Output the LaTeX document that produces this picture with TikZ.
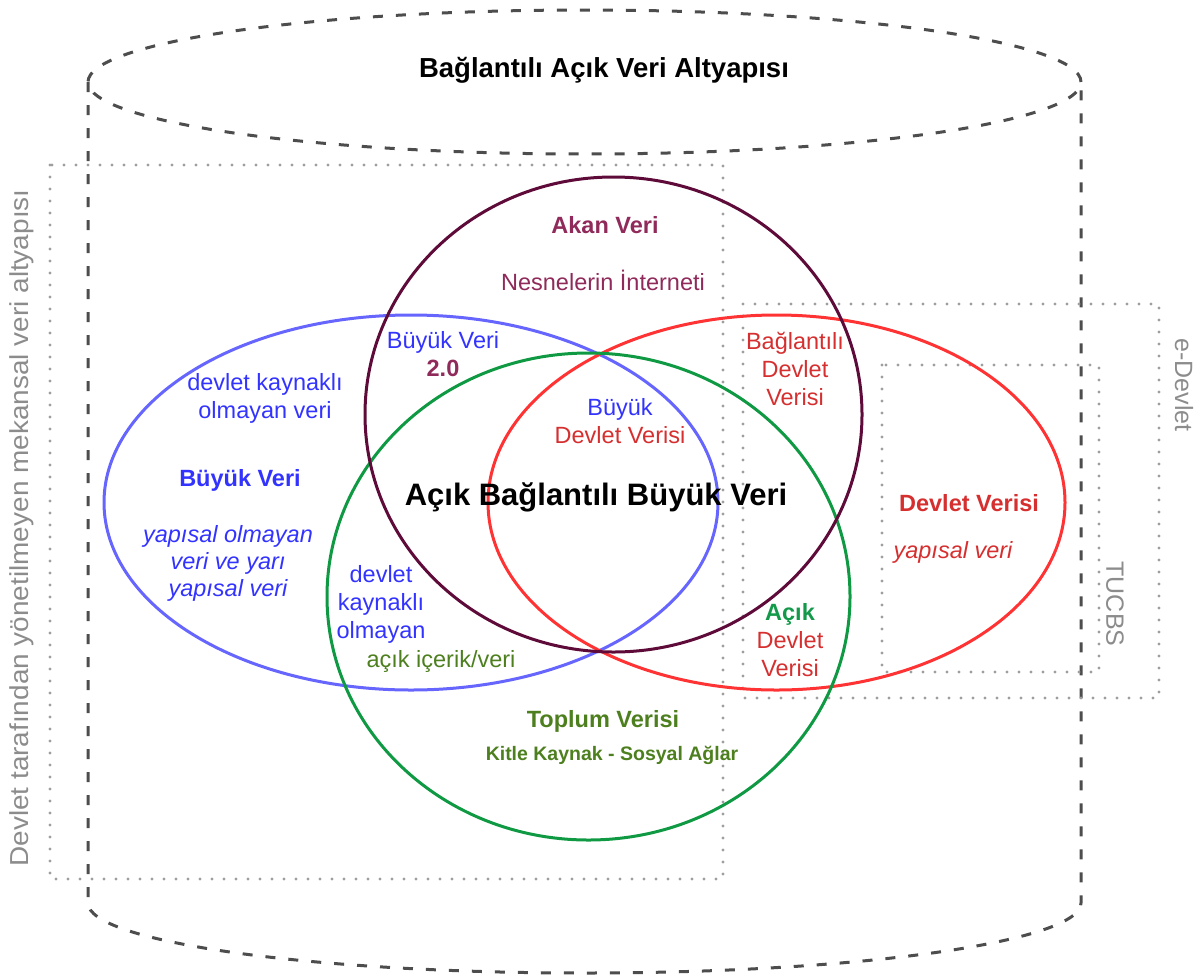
\documentclass[tikz,border=0pt]{standalone}
\usepackage{fontspec}
\setmainfont{Liberation Sans}
\definecolor{cyl}{HTML}{4D4D4D}
\definecolor{dotgray}{HTML}{9E9E9E}
\definecolor{graytext}{HTML}{8C8C8C}
\definecolor{purpleline}{HTML}{5E0B3A}
\definecolor{purpletext}{HTML}{8F2A5A}
\definecolor{blueline}{HTML}{6666FF}
\definecolor{bluetext}{HTML}{3333FF}
\definecolor{redline}{HTML}{FF3333}
\definecolor{redtext}{HTML}{D62F2F}
\definecolor{greenline}{HTML}{0F9943}
\definecolor{greentext}{HTML}{14994A}
\definecolor{olive}{HTML}{4D7F1F}
\tikzset{
  cylline/.style={draw=cyl, line width=3pt, dash pattern=on 10pt off 13pt},
  dotbox/.style={draw=dotgray, line width=3.2pt, dash pattern=on 0pt off 12pt, line cap=round},
  setline/.style={line width=3pt},
  lbl/.style={inner sep=0pt, align=center, font=\fontsize{23.5}{28}\selectfont},
  glbl/.style={inner sep=0pt, text=graytext, font=\fontsize{25}{28}\selectfont},
}
\begin{document}
\begin{tikzpicture}[x=1pt, y=-1pt]
\useasboundingbox (0,0) rectangle (1198,977);
% cylinder
\draw[cylline] (584.5,82) ellipse [x radius=496.5pt, y radius=72pt];
\draw[cylline] (88,82) -- (88,903) arc[start angle=180, end angle=360, x radius=496.5pt, y radius=70pt] -- (1081,82);
% dotted boxes
\draw[dotbox] (50,165) rectangle (723,879);
\draw[dotbox] (743,304) rectangle (1159,698);
\draw[dotbox] (882,365) rectangle (1099,672);
% set shapes
\draw[setline, draw=blueline] (411,502.5) ellipse [x radius=307pt, y radius=187.5pt];
\draw[setline, draw=redline] (776.5,502.5) ellipse [x radius=288.5pt, y radius=187.5pt];
\draw[setline, draw=greenline] (588.5,596.5) ellipse [x radius=261.5pt, y radius=243.5pt];
\draw[setline, draw=purpleline] (613.5,414.5) ellipse [x radius=248.5pt, y radius=237.5pt];
% texts
\node[lbl, font=\fontsize{27.5}{30}\selectfont\bfseries] (title) at (604,70) {Bağlantılı Açık Veri Altyapısı};
\node[lbl, text=purpletext, font=\fontsize{23.5}{28}\selectfont\bfseries] (akan) at (605,225) {Akan Veri};
\node[lbl, text=purpletext] (nes) at (603,280) {Nesnelerin İnterneti};
\node[lbl] (bv20) at (443,354) {\textcolor{bluetext}{Büyük Veri}\\\textcolor{purpletext}{\bfseries 2.0}};
\node[lbl, text=bluetext] (dko) at (265,398) {devlet kaynaklı\\olmayan veri};
\node[lbl, text=bluetext, font=\fontsize{23.5}{28}\selectfont\bfseries] (bv) at (240,480) {Büyük Veri};
\node[lbl, text=bluetext, font=\fontsize{23.5}{27}\selectfont\itshape] (yap) at (228,563) {yapısal olmayan\\veri ve yarı\\yapısal veri};
\node[lbl, text=bluetext] (dko2) at (381,604) {devlet\\kaynaklı\\olmayan};
\node[lbl, text=olive] (aic) at (441,661) {açık içerik/veri};
\node[lbl] (bdv) at (620,421) {\textcolor{bluetext}{Büyük}\\\textcolor{redtext}{Devlet Verisi}};
\node[lbl, font=\fontsize{31}{34}\selectfont\bfseries] (center) at (596,497) {Açık Bağlantılı Büyük Veri};
\node[lbl, text=redtext] (bdv2) at (795,369) {Bağlantılı\\Devlet\\Verisi};
\node[lbl, text=redtext, font=\fontsize{23.5}{28}\selectfont\bfseries] (dv) at (969,503) {Devlet Verisi};
\node[lbl, text=redtext, font=\fontsize{23.5}{28}\selectfont\itshape] (yv) at (953,552) {yapısal veri};
\node[lbl] (adv) at (790,640) {\textcolor{greentext}{\bfseries Açık}\\\textcolor{redtext}{Devlet}\\\textcolor{redtext}{Verisi}};
\node[lbl, text=olive, font=\fontsize{23.5}{28}\selectfont\bfseries] (top) at (603,721) {Toplum Verisi};
\node[lbl, text=olive, font=\fontsize{19.5}{22}\selectfont\bfseries] (kit) at (612,755) {Kitle Kaynak - Sosyal Ağlar};
\node[glbl, font=\fontsize{26}{28}\selectfont, rotate=90, xscale=1.075] (lefttxt) at (22,528) {Devlet tarafından yönetilmeyen mekansal veri altyapısı};
\node[glbl, rotate=-90] (edev) at (1184,385) {e-Devlet};
\node[glbl, rotate=-90] (tucbs) at (1115,604) {TUCBS};
\end{tikzpicture}
\end{document}
